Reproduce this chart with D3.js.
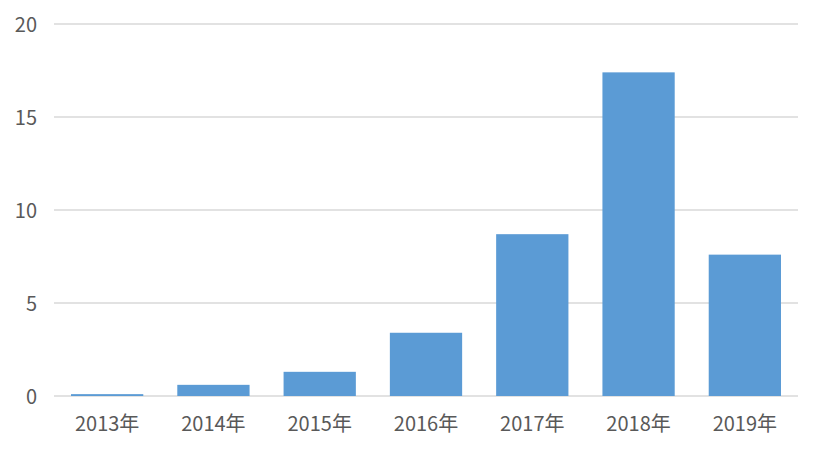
<!DOCTYPE html>
<html><head><meta charset="utf-8">
<script src="https://cdn.jsdelivr.net/npm/d3@7"></script>
<style>body{margin:0;background:#fff;} text{font-family:"Noto Sans CJK SC","Noto Sans",sans-serif;fill:#595959;}</style>
</head><body><svg id="c" width="822" height="454"></svg>
<script>
const categories = ["2013年","2014年","2015年","2016年","2017年","2018年","2019年"];
const values = [0.1, 0.6, 1.3, 3.4, 8.7, 17.4, 7.6];
const yTicks = [0, 5, 10, 15, 20];

const svg = d3.select("#c");
const m = {left: 54, right: 24, top: 24, bottom: 58};
const W = 822, H = 454;
const x = d3.scaleBand().domain(categories).range([m.left, W - m.right]).paddingInner(0.32).paddingOuter(0.16);
const y = d3.scaleLinear().domain([0, 20]).range([H - m.bottom, m.top]);

svg.append("g").selectAll("line").data(yTicks).join("line")
  .attr("x1", m.left).attr("x2", W - m.right)
  .attr("y1", d => y(d)).attr("y2", d => y(d))
  .attr("stroke", "#d9d9d9").attr("stroke-width", 1.3);

svg.append("g").selectAll("rect").data(values).join("rect")
  .attr("x", (d, i) => x(categories[i])).attr("width", x.bandwidth())
  .attr("y", d => y(d)).attr("height", d => y(0) - y(d))
  .attr("fill", "#5b9bd5");

svg.append("g").selectAll("text").data(yTicks).join("text")
  .attr("x", 37).attr("y", d => y(d) + 1).attr("dy", "0.35em")
  .attr("text-anchor", "end").attr("font-size", 20).text(d => d);

svg.append("g").selectAll("text").data(categories).join("text")
  .attr("x", d => x(d) + x.bandwidth() / 2).attr("y", y(0) + 35)
  .attr("text-anchor", "middle").attr("font-size", 20).text(d => d);
</script></body></html>
